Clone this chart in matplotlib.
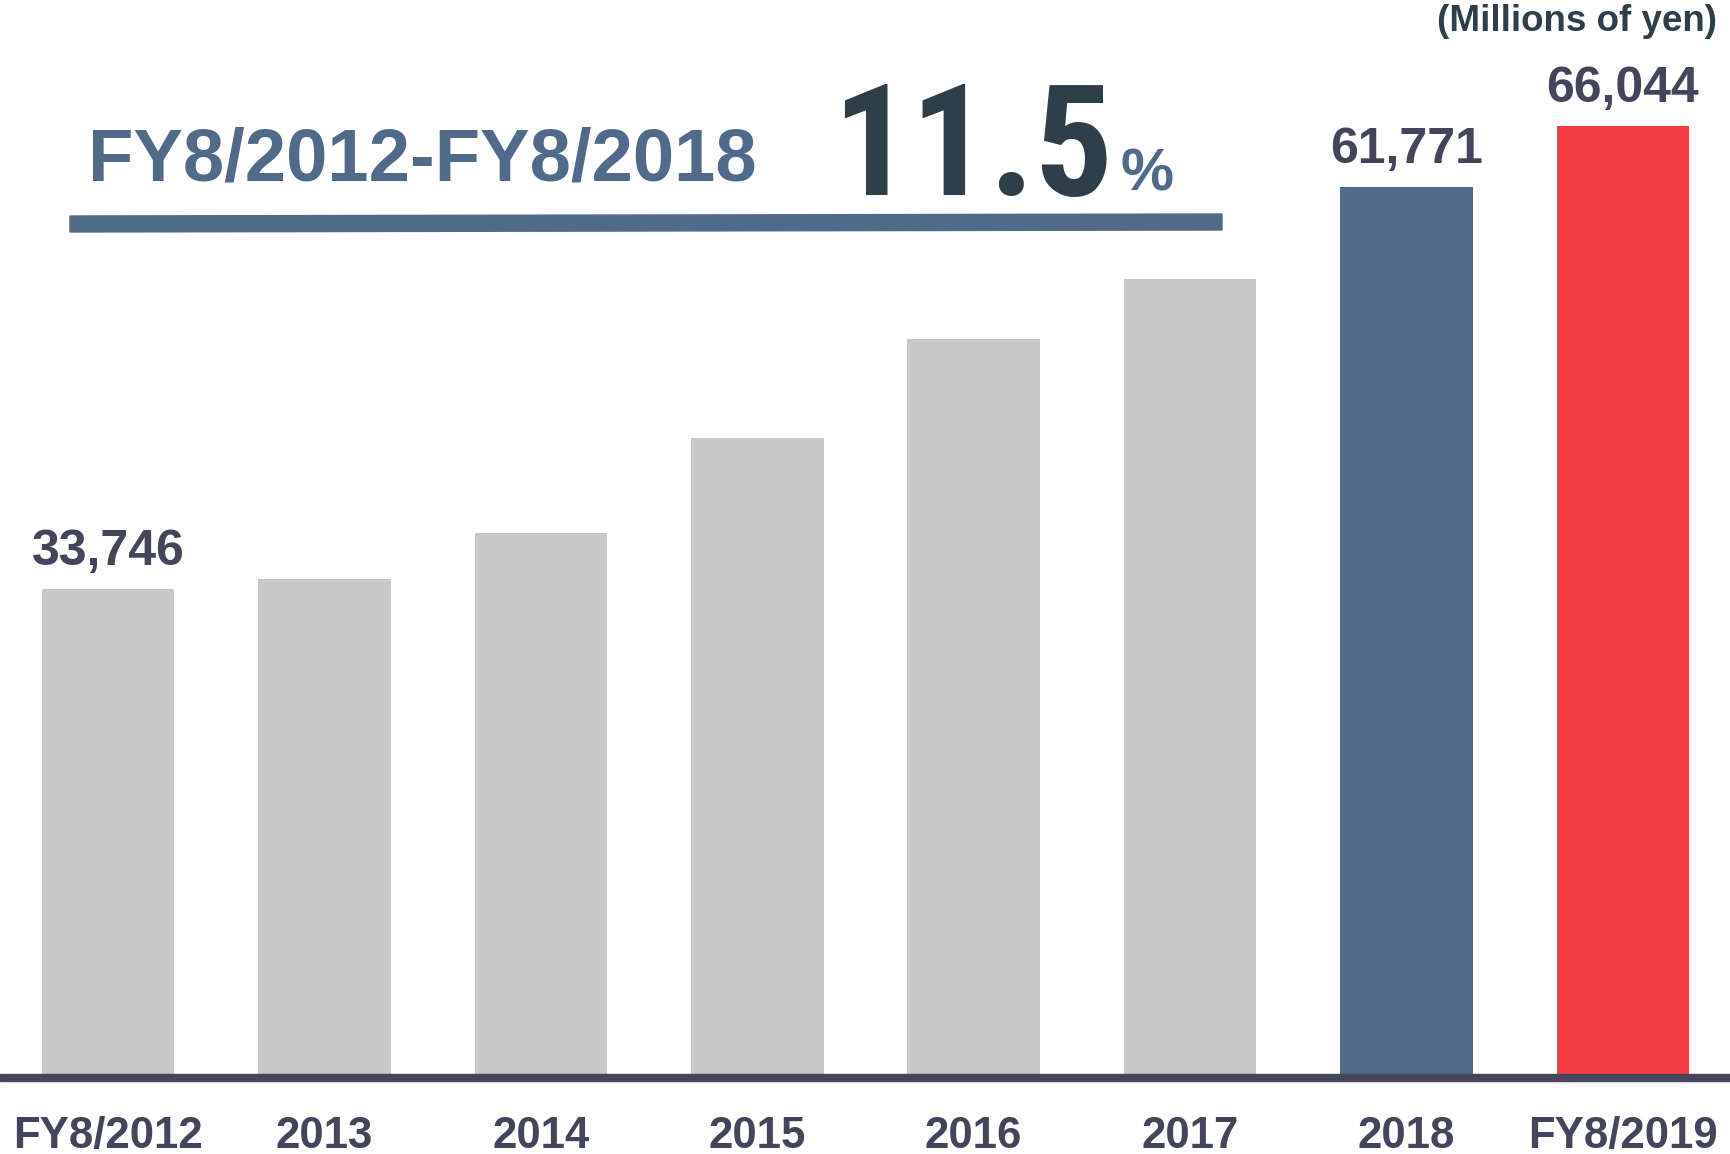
import matplotlib
matplotlib.use("Agg")
import matplotlib.pyplot as plt
from matplotlib.patches import Rectangle, Polygon

# ---- data ----
categories = ["FY8/2012", "2013", "2014", "2015", "2016", "2017", "2018", "FY8/2019"]
values = [33746, 34500, 37700, 44300, 51200, 55400, 61771, 66044]
value_labels = ["33,746", None, None, None, None, None, "61,771", "66,044"]
bar_colors = ["#c8c8c8"] * 6 + ["#526a8a", "#f43e44"]
period_label = "FY8/2012-FY8/2018"
cagr_label = "11.5"
unit_label = "(Millions of yen)"

W, H = 1731, 1154
fig = plt.figure(figsize=(W / 100, H / 100), dpi=100)
fig.patch.set_facecolor("white")

def fx(px):
    return px / W

def fy(py):
    return 1 - py / H

base_px = 1074
ax = fig.add_axes([0, fy(base_px), 1, base_px / H])
ax.set_xlim(-0.5, 7.5)
ax.set_ylim(0, 74800)
ax.axis("off")

xs = list(range(len(categories)))
ax.bar(xs, values, width=0.612, color=bar_colors, zorder=2)

bold = ["Liberation Sans", "DejaVu Sans"]
cond = ["Roboto Condensed", "Liberation Sans", "DejaVu Sans"]
label_col = "#43455a"
dark = "#2f3f4a"
blue = "#526a8a"

for x, v, lab in zip(xs, values, value_labels):
    if lab:
        ax.annotate(lab, xy=(x, v), xytext=(0, 17.3), textcoords="offset points",
                    ha="center", va="baseline", fontsize=36, fontweight="bold",
                    family=bold, color=label_col)

for x, cat in zip(xs, categories):
    ax.annotate(cat, xy=(x, 0), xytext=(0, -53.3), textcoords="offset points",
                ha="center", va="baseline", fontsize=31.5, fontweight="bold",
                family=bold, color=label_col, annotation_clip=False)

# baseline axis line
fig.patches.append(Rectangle((0, fy(1081)), 1, 7 / H, transform=fig.transFigure,
                             color="#45465a", zorder=5))

# underline bar under headline (slightly tilted as in the reference)
fig.patches.append(Polygon([(fx(70), fy(216)), (fx(1222), fy(214)),
                            (fx(1222), fy(230)), (fx(70), fy(232))],
                           closed=True, transform=fig.transFigure,
                           color=blue, zorder=5))

# texts
fig.text(fx(1717), fy(31), unit_label, ha="right", va="baseline", fontsize=26.5,
         fontweight="heavy", family=bold, color=dark)
fig.text(fx(88), fy(180), period_label, ha="left", va="baseline", fontsize=53.5,
         fontweight="bold", family=bold, color=blue)

fig.text(fx(832), fy(195), cagr_label, ha="left", va="baseline", fontsize=112,
         fontweight="bold", fontstretch="condensed", family=cond, color=dark)
fig.text(fx(1147), fy(191), "%", ha="center", va="baseline", fontsize=43,
         fontweight="bold", family=bold, color=blue)

fig.savefig("out.png", dpi=100, facecolor="white")
